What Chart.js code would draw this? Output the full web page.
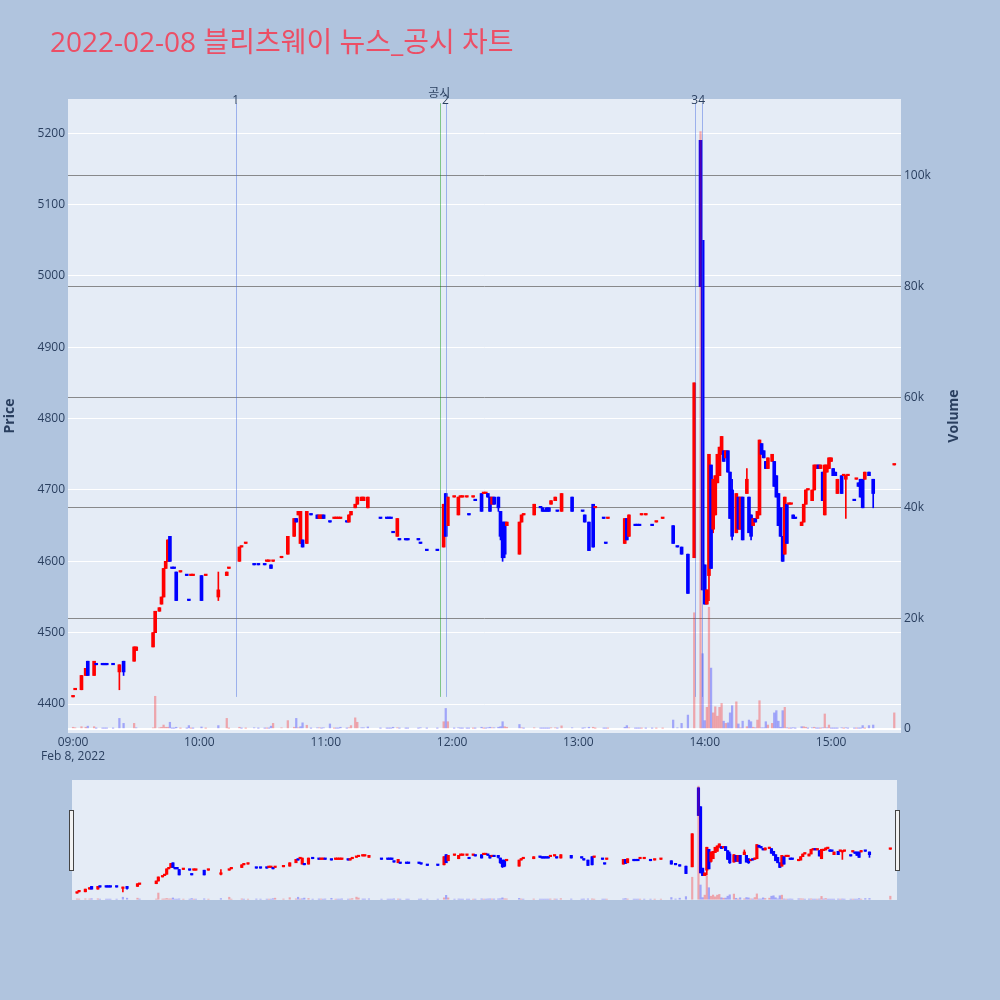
<!DOCTYPE html>
<html>
<head>
<meta charset="utf-8">
<script src="https://cdn.jsdelivr.net/npm/chart.js@4.4.1/dist/chart.umd.min.js"></script>
<style>
html,body{margin:0;padding:0;background:#b0c4de;}
#wrap{position:relative;width:1000px;height:1000px;overflow:hidden;}
#main{position:absolute;left:0;top:0;}
#mini{position:absolute;left:66px;top:780px;}
</style>
</head>
<body>
<div id="wrap">
<canvas id="main" width="1000" height="1000"></canvas>
<canvas id="mini" width="837" height="120"></canvas>
</div>
<script>
// ---- data (minute offset from 09:00, OHLC, volume) ----
const minutes = [
0,1,4,6,7,10,11,14,15,16,
19,22,24,29,30,38,39,41,42,43,
44,45,46,47,48,49,51,54,55,56,
57,61,63,69,73,74,79,80,82,86,
88,91,92,93,94,95,99,102,105,106,
107,108,109,111,113,116,117,118,119,122,
124,125,126,127,130,131,132,134,135,137,
138,140,146,149,150,151,152,154,155,158,
159,164,165,168,173,176,177,178,181,183,
184,185,187,188,190,191,194,195,196,197,
198,199,200,202,203,204,205,206,212,213,
214,219,222,223,224,225,226,227,229,230,
232,237,242,243,245,247,248,252,253,254,
262,263,264,267,268,269,270,272,275,277,
280,285,287,289,292,295,298,299,300,301,
302,303,304,305,306,307,308,309,310,311,
312,313,315,316,317,318,320,321,322,323,
324,325,326,327,328,329,330,332,333,334,
335,336,337,338,339,340,341,342,343,346,
347,348,349,351,352,353,354,355,356,357,
358,359,360,361,362,363,365,366,367,368,
371,372,373,374,375,376,378,380,390];
const opens = [
4410,4420,4420,4440,4460,4440,4455,4455,4455,4455,
4455,4445,4460,4460,4475,4480,4500,4530,4540,4550,
4590,4600,4635,4590,4590,4585,4585,4580,4545,4580,
4580,4580,4580,4550,4580,4590,4600,4620,4625,4595,
4595,4595,4600,4600,4595,4600,4605,4610,4635,4660,
4665,4625,4630,4625,4665,4665,4660,4660,4665,4655,
4660,4660,4660,4660,4655,4655,4665,4675,4680,4685,
4685,4675,4660,4660,4660,4660,4640,4635,4630,4630,
4630,4630,4625,4615,4615,4620,4695,4650,4690,4665,
4690,4690,4690,4665,4690,4685,4695,4695,4695,4695,
4690,4680,4690,4690,4670,4655,4655,4650,4610,4655,
4665,4665,4675,4675,4670,4675,4675,4680,4685,4670,
4670,4690,4670,4665,4655,4680,4675,4660,4625,4660,
4625,4660,4635,4650,4650,4650,4665,4665,4650,4655,
4660,4650,4620,4620,4610,4605,5190,5050,4595,4540,
4580,4735,4645,4665,4710,4720,4750,4755,4745,4755,
4725,4700,4640,4690,4645,4690,4695,4690,4665,4650,
4660,4660,4665,4765,4755,4740,4730,4740,4740,4720,
4695,4675,4635,4610,4680,4680,4680,4665,4660,4650,
4655,4680,4700,4685,4700,4730,4735,4730,4725,4665,
4725,4730,4740,4730,4725,4695,4720,4720,4715,4720,
4685,4715,4710,4715,4715,4715,4725,4715,4735];
const highs = [
4410,4420,4440,4450,4460,4460,4455,4455,4455,4455,
4455,4455,4460,4480,4480,4500,4530,4535,4550,4590,
4600,4630,4635,4590,4590,4585,4585,4580,4545,4580,
4580,4580,4580,4585,4585,4590,4620,4620,4625,4595,
4595,4595,4600,4600,4595,4600,4605,4635,4660,4660,
4670,4670,4630,4670,4665,4665,4665,4665,4665,4655,
4660,4660,4660,4660,4655,4665,4670,4680,4690,4690,
4690,4690,4660,4660,4660,4660,4640,4660,4630,4630,
4630,4630,4625,4615,4615,4680,4695,4690,4690,4690,
4690,4690,4690,4665,4690,4685,4695,4695,4695,4695,
4690,4690,4690,4690,4670,4655,4655,4655,4655,4665,
4665,4680,4675,4675,4670,4675,4675,4685,4690,4670,
4695,4690,4670,4665,4655,4680,4675,4660,4625,4660,
4660,4660,4665,4650,4650,4650,4665,4665,4650,4655,
4660,4650,4620,4620,4610,4850,5190,5050,4595,4560,
4750,4735,4715,4720,4750,4760,4775,4755,4755,4755,
4725,4715,4695,4690,4690,4690,4730,4690,4665,4660,
4660,4670,4770,4765,4755,4740,4745,4750,4740,4720,
4695,4675,4635,4690,4680,4680,4680,4665,4660,4655,
4680,4700,4700,4700,4735,4735,4735,4735,4725,4735,
4735,4745,4745,4730,4725,4715,4720,4720,4720,4720,
4685,4715,4710,4715,4715,4725,4725,4715,4735];
const lows = [
4410,4420,4420,4440,4440,4440,4455,4455,4455,4455,
4455,4420,4440,4460,4475,4480,4500,4530,4540,4550,
4590,4600,4600,4590,4590,4545,4585,4580,4545,4580,
4580,4545,4580,4545,4580,4590,4600,4620,4625,4595,
4595,4595,4600,4600,4590,4600,4605,4610,4635,4655,
4665,4625,4620,4625,4665,4660,4660,4660,4660,4655,
4660,4660,4660,4660,4655,4655,4665,4675,4680,4685,
4685,4675,4660,4660,4660,4660,4640,4635,4630,4630,
4630,4630,4625,4615,4615,4620,4635,4650,4690,4665,
4690,4690,4690,4665,4690,4685,4670,4695,4695,4690,
4670,4680,4680,4670,4630,4600,4605,4650,4610,4655,
4665,4665,4675,4670,4670,4670,4670,4680,4685,4670,
4670,4670,4670,4655,4615,4620,4675,4660,4625,4660,
4625,4630,4635,4650,4650,4650,4665,4665,4650,4655,
4660,4625,4620,4610,4555,4605,4985,4560,4540,4540,
4545,4590,4640,4665,4710,4720,4750,4740,4745,4725,
4660,4630,4640,4645,4645,4630,4695,4640,4630,4650,
4655,4660,4665,4750,4745,4730,4730,4740,4705,4690,
4650,4635,4600,4610,4625,4680,4680,4660,4660,4650,
4655,4680,4700,4685,4700,4730,4730,4730,4685,4665,
4725,4730,4740,4720,4720,4695,4695,4720,4660,4720,
4685,4715,4705,4690,4675,4715,4720,4675,4735];
const closes = [
4410,4420,4440,4450,4440,4460,4455,4455,4455,4455,
4455,4455,4445,4480,4480,4500,4530,4535,4550,4590,
4600,4630,4600,4590,4590,4545,4585,4580,4545,4580,
4580,4545,4580,4560,4585,4590,4620,4620,4625,4595,
4595,4595,4600,4600,4590,4600,4605,4635,4660,4655,
4670,4670,4620,4670,4665,4660,4665,4665,4660,4655,
4660,4660,4660,4660,4655,4665,4670,4680,4690,4690,
4690,4690,4660,4660,4660,4660,4640,4660,4630,4630,
4630,4630,4625,4615,4615,4680,4635,4690,4690,4690,
4690,4690,4690,4665,4690,4685,4670,4695,4695,4690,
4670,4690,4680,4675,4635,4605,4610,4655,4655,4665,
4665,4680,4675,4670,4670,4670,4670,4685,4690,4670,
4695,4670,4670,4655,4615,4620,4675,4660,4625,4660,
4660,4630,4665,4650,4650,4650,4665,4665,4650,4655,
4660,4625,4620,4610,4555,4850,4985,4560,4540,4560,
4750,4590,4715,4720,4750,4760,4775,4740,4755,4725,
4660,4635,4695,4645,4690,4630,4715,4640,4635,4660,
4655,4670,4770,4750,4745,4730,4745,4750,4705,4690,
4650,4635,4600,4690,4625,4680,4680,4660,4660,4655,
4680,4700,4700,4700,4735,4735,4730,4735,4685,4735,
4735,4745,4745,4720,4720,4715,4695,4720,4720,4720,
4685,4715,4705,4690,4675,4725,4720,4695,4735];
const volumes = [
300,200,400,300,500,400,100,100,100,100,
100,1900,1000,1000,200,200,5900,200,300,700,
300,300,1200,100,100,300,100,100,600,100,
100,350,100,600,1900,100,300,100,100,200,
100,100,100,100,500,1000,200,1500,300,1900,
200,400,1100,660,100,200,200,100,200,900,
100,100,100,300,100,200,600,2000,1200,200,
200,360,100,100,100,100,300,200,100,100,
100,100,200,100,100,1300,3700,1300,100,200,
100,100,100,100,100,100,300,100,100,200,
300,200,200,300,400,1300,400,300,800,200,
100,200,100,100,100,100,100,200,200,100,
550,200,100,200,300,300,100,100,100,100,
300,600,200,100,100,100,100,100,100,100,
100,1600,200,1000,2500,21000,108000,13600,1500,3900,
22000,11000,2900,4000,2300,3900,4600,1400,1000,1100,
2900,4200,4900,900,200,1400,400,1600,1300,300,
200,1600,5100,200,200,1300,700,1000,2900,3300,
1400,300,3300,3900,200,100,100,200,100,400,
400,300,100,200,300,100,100,100,200,2700,
200,700,100,100,100,100,200,100,200,100,
100,100,100,100,600,100,600,700,2900];

// ---- axis ticks / labels ----
const xTickMinutes = [0, 60, 120, 180, 240, 300, 360];
const xTickLabels = ['09:00', '10:00', '11:00', '12:00', '13:00', '14:00', '15:00'];
const dateLabel = 'Feb 8, 2022';
const priceTicks = [4400, 4500, 4600, 4700, 4800, 4900, 5000, 5100, 5200];
const volumeTicks = [0, 20000, 40000, 60000, 80000, 100000];
const volumeTickLabels = ['0', '20k', '40k', '60k', '80k', '100k'];

// ---- event markers (news / disclosure) ----
const eventMinutes = [77.2, 174.4, 176.9, 295.2, 298.5];
const eventLabels = ['1', '공시', '2', '3', '4'];
const eventIsDisclosure = [false, true, false, false, false];

const titleText = '2022-02-08 블리츠웨이 뉴스_공시 차트';

// ---- axis ranges ----
const X_MIN = -2.4, X_MAX = 393.2;
const PRICE_MIN = 4359.4, PRICE_MAX = 5247.9;
const VOL_MIN = -740, VOL_MAX = 113900;
const EVENT_PRICE_TOP = 5242, EVENT_PRICE_BOTTOM = 4410;

// ---- styles ----
const FONT = '"Open Sans", "Noto Sans CJK KR", sans-serif';
const TEXT = '#2a3f5f';
const PLOT_BG = '#e5ecf6';
const RED = '#ff0000', BLUE = '#0000ff';
const RED_VOL = 'rgba(255,0,0,0.3)', BLUE_VOL = 'rgba(0,0,255,0.3)';

// candle direction (flat candles use previous close) and volume direction
const candleColors = [], volColors = [];
(function () {
  let prev = null, lastInc = true;
  for (let i = 0; i < minutes.length; i++) {
    const o = opens[i], c = closes[i];
    let inc;
    if (c > o) inc = true;
    else if (c < o) inc = false;
    else if (prev !== null && c > prev) inc = true;
    else if (prev !== null && c < prev) inc = false;
    else inc = lastInc;
    lastInc = inc;
    candleColors.push(inc ? RED : BLUE);
    const vUp = prev === null ? true : c > prev;
    volColors.push(vUp ? RED_VOL : BLUE_VOL);
    prev = c;
  }
})();

function makeDatasets(bodyW, wickW, volW) {
  return [
    { type: 'bar', yAxisID: 'yv', order: 0, grouped: false,
      data: minutes.map((t, i) => ({ x: t, y: volumes[i] })),
      backgroundColor: volColors, barThickness: volW, borderWidth: 0 },
    { type: 'bar', yAxisID: 'y', order: 1, grouped: false,
      data: minutes.map((t, i) => ({ x: t, y: [opens[i], closes[i]] })),
      backgroundColor: candleColors, barThickness: bodyW, minBarLength: 1.5, borderWidth: 0 },
    { type: 'bar', yAxisID: 'y', order: 2, grouped: false,
      data: minutes.map((t, i) => ({ x: t, y: [lows[i], highs[i]] })),
      backgroundColor: candleColors, barThickness: wickW, minBarLength: 1, borderWidth: 0 }
  ];
}

function fmtMinute(v) {
  const idx = xTickMinutes.indexOf(v);
  return idx >= 0 ? xTickLabels[idx] : '';
}

const mainDecor = {
  id: 'mainDecor',
  beforeDraw(chart) {
    const { ctx, chartArea: a } = chart;
    ctx.save();
    ctx.fillStyle = PLOT_BG;
    ctx.fillRect(a.left, a.top, a.right - a.left, a.bottom - a.top);
    ctx.restore();
  },
  afterDatasetsDraw(chart) {
    const { ctx } = chart;
    const xs = chart.scales.x, ys = chart.scales.y;
    const yTop = ys.getPixelForValue(EVENT_PRICE_TOP);
    const yBot = ys.getPixelForValue(EVENT_PRICE_BOTTOM);
    ctx.save();
    eventMinutes.forEach((t, i) => {
      const x = Math.round(xs.getPixelForValue(t)) + 0.5;
      ctx.strokeStyle = eventIsDisclosure[i] ? 'rgba(0,150,0,0.45)' : 'rgba(65,105,225,0.45)';
      ctx.lineWidth = 1;
      ctx.beginPath();
      ctx.moveTo(x, yTop);
      ctx.lineTo(x, yBot);
      ctx.stroke();
    });
    ctx.font = '12px ' + FONT;
    ctx.fillStyle = TEXT;
    ctx.textAlign = 'center';
    ctx.textBaseline = 'alphabetic';
    eventMinutes.forEach((t, i) => {
      const x = xs.getPixelForValue(t);
      const y = eventIsDisclosure[i] ? yTop - 6 : yTop + 1;
      ctx.fillText(eventLabels[i], x - (eventIsDisclosure[i] ? 1 : 0), y);
    });
    ctx.restore();
  },
  afterDraw(chart) {
    const { ctx, chartArea: a } = chart;
    ctx.save();
    ctx.fillStyle = '#ec4e65';
    ctx.font = '28px ' + FONT;
    ctx.textAlign = 'left';
    ctx.textBaseline = 'alphabetic';
    ctx.fillText(titleText, 50, 52);

    ctx.fillStyle = TEXT;
    ctx.font = 'bold 14px ' + FONT;
    ctx.textAlign = 'center';
    ctx.textBaseline = 'middle';
    const cy = (a.top + a.bottom) / 2;
    ctx.save();
    ctx.translate(10, cy);
    ctx.rotate(-Math.PI / 2);
    ctx.fillText('Price', 0, 0);
    ctx.restore();
    ctx.save();
    ctx.translate(954, cy);
    ctx.rotate(-Math.PI / 2);
    ctx.fillText('Volume', 0, 0);
    ctx.restore();
    ctx.restore();
  }
};

new Chart(document.getElementById('main'), {
  type: 'bar',
  data: { datasets: makeDatasets(3, 1, 1.6) },
  plugins: [mainDecor],
  options: {
    responsive: false, animation: false, devicePixelRatio: 1, events: [],
    layout: { padding: { left: 0, right: 35, top: 99, bottom: 227 } },
    plugins: { legend: { display: false }, tooltip: { enabled: false }, title: { display: false } },
    scales: {
      x: {
        type: 'linear', min: X_MIN, max: X_MAX, offset: false,
        grid: { display: false, drawTicks: false }, border: { display: false },
        afterBuildTicks: s => { s.ticks = xTickMinutes.map(v => ({ value: v })); },
        afterFit: s => { s.height = 40; },
        ticks: {
          color: TEXT, font: { family: FONT, size: 12 }, padding: 2,
          maxRotation: 0, autoSkip: false,
          callback: (v, i) => i === 0 ? [fmtMinute(v), dateLabel] : fmtMinute(v)
        }
      },
      y: {
        position: 'left', min: PRICE_MIN, max: PRICE_MAX,
        grid: { color: '#ffffff', lineWidth: 1, drawTicks: false }, border: { display: false },
        afterBuildTicks: s => { s.ticks = priceTicks.map(v => ({ value: v })); },
        afterFit: s => { s.width = 68; },
        ticks: { color: TEXT, font: { family: FONT, size: 12 }, padding: 3, callback: v => String(v) }
      },
      yv: {
        position: 'right', min: VOL_MIN, max: VOL_MAX,
        grid: {
          color: c => c.tick && c.tick.value === 0 ? '#ffffff' : 'rgba(120,120,120,0.85)',
          lineWidth: c => c.tick && c.tick.value === 0 ? 2 : 1,
          drawTicks: false
        },
        border: { display: false },
        afterBuildTicks: s => { s.ticks = volumeTicks.map(v => ({ value: v })); },
        afterFit: s => { s.width = 64; },
        ticks: {
          color: TEXT, font: { family: FONT, size: 12 }, padding: 3,
          callback: v => { const k = volumeTicks.indexOf(v); return k >= 0 ? volumeTickLabels[k] : ''; }
        }
      }
    }
  }
});

const miniDecor = {
  id: 'miniDecor',
  beforeDraw(chart) {
    const { ctx, chartArea: a } = chart;
    ctx.save();
    ctx.fillStyle = PLOT_BG;
    ctx.fillRect(a.left, a.top, a.right - a.left, a.bottom - a.top);
    ctx.restore();
  },
  afterDraw(chart) {
    const { ctx, chartArea: a } = chart;
    ctx.save();
    ctx.fillStyle = '#f2f2f2';
    ctx.strokeStyle = '#444444';
    ctx.lineWidth = 1;
    const h = 60, top = a.top + 30;
    [[a.left - 3, top], [a.right - 2, top]].forEach(([x, y]) => {
      ctx.fillRect(x + 0.5, y + 0.5, 4, h);
      ctx.strokeRect(x + 0.5, y + 0.5, 4, h);
    });
    ctx.restore();
  }
};

new Chart(document.getElementById('mini'), {
  type: 'bar',
  data: { datasets: makeDatasets(2.5, 1, 1.5) },
  plugins: [miniDecor],
  options: {
    responsive: false, animation: false, devicePixelRatio: 1, events: [],
    layout: { padding: { left: 6, right: 6, top: 0, bottom: 0 } },
    plugins: { legend: { display: false }, tooltip: { enabled: false } },
    scales: {
      x: { type: 'linear', display: false, min: X_MIN, max: X_MAX, offset: false },
      y: { display: false, min: PRICE_MIN, max: PRICE_MAX },
      yv: { display: false, position: 'right', min: VOL_MIN, max: VOL_MAX }
    }
  }
});
</script>
</body>
</html>
